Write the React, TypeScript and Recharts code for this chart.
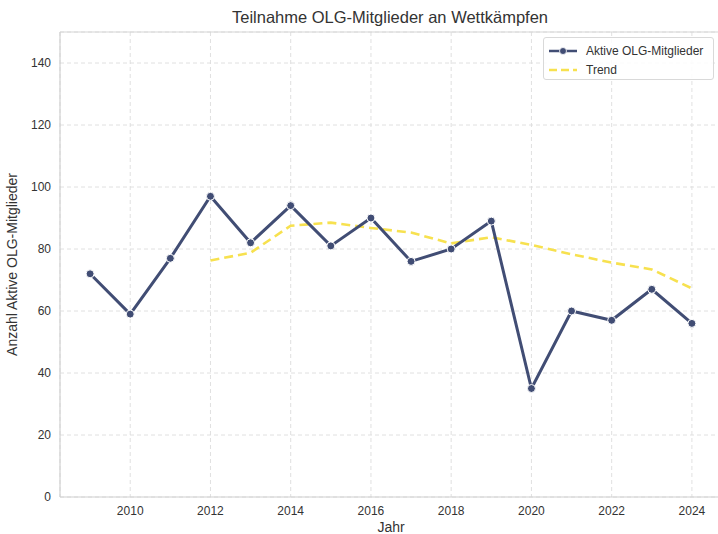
import React from 'react';
import { LineChart, Line, XAxis, YAxis, CartesianGrid, Legend, ReferenceLine } from 'recharts';

const years = [2009, 2010, 2011, 2012, 2013, 2014, 2015, 2016, 2017, 2018, 2019, 2020, 2021, 2022, 2023, 2024];
const members = [72, 59, 77, 97, 82, 94, 81, 90, 76, 80, 89, 35, 60, 57, 67, 56];
const trend = [null, null, null, 76.3, 78.8, 87.5, 88.5, 86.8, 85.3, 81.8, 83.8, 81.3, 78.3, 75.6, 73.4, 67.3];
const xTicks = [2010, 2012, 2014, 2016, 2018, 2020, 2022, 2024];
const yTicks = [0, 20, 40, 60, 80, 100, 120, 140];

const data = years.map((y, i) => ({ year: y, members: members[i], trend: trend[i] }));

const FONT = '"Liberation Sans", Arial, sans-serif';
const NAVY = '#414d74';
const YELLOW = '#f7e14f';
const TEXT = '#333333';

const LegendBox = () => (
  <div
    style={{
      width: 169,
      height: 41,
      border: '1px solid #d9d9d9',
      borderRadius: 3,
      background: 'rgba(255,255,255,0.85)',
      fontFamily: FONT,
      fontSize: 12,
      color: TEXT,
      boxSizing: 'content-box',
    }}
  >
    <div style={{ display: 'flex', alignItems: 'center', height: 19, marginTop: 3 }}>
      <svg width={32} height={10} style={{ marginLeft: 4 }}>
        <line x1={1} y1={5} x2={29} y2={5} stroke={NAVY} strokeWidth={2.5} />
        <circle cx={15} cy={5} r={3.5} fill={NAVY} stroke="#fff" strokeWidth={0.8} />
      </svg>
      <span style={{ marginLeft: 6 }}>Aktive OLG-Mitglieder</span>
    </div>
    <div style={{ display: 'flex', alignItems: 'center', height: 19 }}>
      <svg width={32} height={10} style={{ marginLeft: 4 }}>
        <line x1={1} y1={5} x2={29} y2={5} stroke={YELLOW} strokeWidth={2.5} strokeDasharray="8 4" />
      </svg>
      <span style={{ marginLeft: 6 }}>Trend</span>
    </div>
  </div>
);

export default function App() {
  return (
    <div style={{ position: 'absolute', left: 0, top: 0, width: 718, height: 534, background: '#fff', overflow: 'hidden' }}>
      <LineChart
        width={718}
        height={534}
        data={data}
        margin={{ top: 32, right: -4, bottom: 0, left: 0 }}
        style={{ fontFamily: FONT }}
      >
        <text x={390} y={23} textAnchor="middle" fontSize={16.5} fill={TEXT} fontFamily={FONT}>
          Teilnahme OLG-Mitglieder an Wettkämpfen
        </text>
        <CartesianGrid stroke="#dcdcdc" strokeDasharray="4 3" strokeWidth={0.9} />
        <ReferenceLine y={150} stroke="#d6d6d6" strokeWidth={1.2} ifOverflow="extendDomain" />
        <XAxis
          dataKey="year"
          type="number"
          domain={[2008.25, 2024.75]}
          ticks={xTicks}
          allowDataOverflow
          tickLine={false}
          tickSize={0}
          tickMargin={9}
          height={37}
          axisLine={{ stroke: '#d0d0d0', strokeWidth: 1.2 }}
          tick={{ fill: TEXT, fontSize: 12, fontFamily: FONT }}
          label={{ value: 'Jahr', position: 'insideBottom', offset: 2, fill: TEXT, fontSize: 14, fontFamily: FONT }}
        />
        <YAxis
          type="number"
          domain={[0, 150]}
          ticks={yTicks}
          width={60}
          tickLine={false}
          tickSize={0}
          tickMargin={9}
          axisLine={{ stroke: '#d0d0d0', strokeWidth: 1.2 }}
          tick={{ fill: TEXT, fontSize: 12, fontFamily: FONT }}
          label={{
            value: 'Anzahl Aktive OLG-Mitglieder',
            angle: -90,
            position: 'insideLeft',
            offset: 12,
            style: { textAnchor: 'middle' },
            fill: TEXT,
            fontSize: 14,
            fontFamily: FONT,
          }}
        />
        <Legend
          layout="vertical"
          align="center"
          verticalAlign="middle"
          wrapperStyle={{ top: 37, left: 543, width: 171, height: 43 }}
          content={() => <LegendBox />}
        />
        <Line
          type="linear"
          dataKey="trend"
          stroke={YELLOW}
          strokeWidth={2.6}
          strokeDasharray="9 5"
          dot={false}
          activeDot={false}
          connectNulls={false}
          isAnimationActive={false}
        />
        <Line
          type="linear"
          dataKey="members"
          stroke={NAVY}
          strokeWidth={3}
          dot={{ r: 4, fill: NAVY, stroke: '#fff', strokeWidth: 1 }}
          activeDot={false}
          isAnimationActive={false}
        />
      </LineChart>
    </div>
  );
}
